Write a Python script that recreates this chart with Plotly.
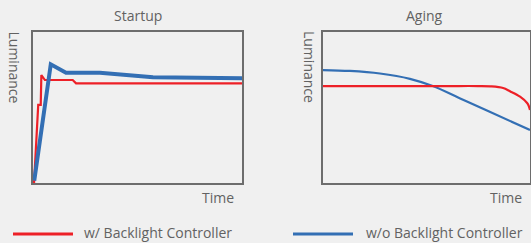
import plotly.graph_objects as go

# ---- data (normalised 0..100 on both axes) ----
startup_red_x = [0.5, 2.5, 3.7, 4.0, 5.7, 19.0, 20.6, 100]
startup_red_y = [0, 51.7, 51.7, 71.5, 68.2, 68.2, 66.0, 66.0]
startup_blue_x = [0.6, 8.5, 15.8, 32.0, 57.4, 100]
startup_blue_y = [1.5, 78.6, 73.0, 73.0, 70.0, 69.3]

aging_red_x = [0, 20, 40, 60, 75, 81, 87, 90.3, 95.2, 98.6, 99.4, 100]
aging_red_y = [64.2, 64.2, 64.2, 64.2, 64.2, 64.0, 62.9, 60.8, 57.2, 53.0, 51.0, 48.3]
aging_blue_x = [0, 13, 27.5, 42, 53, 66, 80, 100]
aging_blue_y = [74.8, 74.2, 72.5, 69.0, 64.2, 56.2, 47.5, 35.1]

panel_titles = ["Startup", "Aging"]
axis_y_title = "Luminance"
axis_x_title = "Time"
series_names = ["w/ Backlight Controller", "w/o Backlight Controller"]

RED = "#ed2027"
BLUE = "#336fb4"
TXT = "#626262"
BORDER = "#6d6d6d"
BG = "#f0f0f0"
FONT = "Open Sans"

W, H = 531, 243

def px(x):
    return x / W

def py(y):
    return 1 - y / H

fig = go.Figure()
fig.add_trace(go.Scatter(x=startup_red_x, y=startup_red_y, mode="lines",
                         line=dict(color=RED, width=2.2), xaxis="x", yaxis="y", showlegend=False))
fig.add_trace(go.Scatter(x=startup_blue_x, y=startup_blue_y, mode="lines",
                         line=dict(color=BLUE, width=4), xaxis="x", yaxis="y", showlegend=False))
fig.add_trace(go.Scatter(x=aging_blue_x, y=aging_blue_y, mode="lines", line_shape="spline",
                         line=dict(color=BLUE, width=2.2), xaxis="x2", yaxis="y2", showlegend=False))
fig.add_trace(go.Scatter(x=aging_red_x, y=aging_red_y, mode="lines", line_shape="spline",
                         line=dict(color=RED, width=2.2), xaxis="x2", yaxis="y2", showlegend=False))

ax = dict(range=[0, 100], showgrid=False, zeroline=False, showticklabels=False, ticks="",
          showline=True, mirror=True, linecolor=BORDER, linewidth=2)
ydom = [py(183), py(32)]
fig.update_layout(
    xaxis=dict(domain=[px(33), px(242)], anchor="y", **ax),
    yaxis=dict(domain=ydom, anchor="x", **ax),
    xaxis2=dict(domain=[px(323), px(530)], anchor="y2", **ax),
    yaxis2=dict(domain=ydom, anchor="x2", **ax),
)

annots = []
font = dict(family=FONT, size=14, color=TXT)
# panel titles
for cx, t in [(137.5, panel_titles[0]), (424, panel_titles[1])]:
    annots.append(dict(x=px(cx), y=py(15), xref="paper", yref="paper", text=t, showarrow=False,
                       xanchor="center", yanchor="middle", font=font))
# y axis titles
for cx in [13.5, 309]:
    annots.append(dict(x=px(cx), y=py(67), xref="paper", yref="paper", text=axis_y_title,
                       showarrow=False, textangle=90, xanchor="center", yanchor="middle", font=font))
# x axis titles
for rx in [236, 524]:
    annots.append(dict(x=px(rx), y=py(197), xref="paper", yref="paper", text=axis_x_title,
                       showarrow=False, xanchor="right", yanchor="middle", font=font))
# legend texts
annots.append(dict(x=px(82), y=py(232), xref="paper", yref="paper", text=series_names[0],
                   showarrow=False, xanchor="left", yanchor="middle", font=font))
annots.append(dict(x=px(364), y=py(232), xref="paper", yref="paper", text=series_names[1],
                   showarrow=False, xanchor="left", yanchor="middle", font=font))

shapes = [
    dict(type="line", xref="paper", yref="paper", x0=px(13), x1=px(73), y0=py(234), y1=py(234),
         line=dict(color=RED, width=3)),
    dict(type="line", xref="paper", yref="paper", x0=px(293), x1=px(353), y0=py(234), y1=py(234),
         line=dict(color=BLUE, width=3)),
]

fig.update_layout(
    width=W, height=H, margin=dict(l=0, r=0, t=0, b=0),
    paper_bgcolor=BG, plot_bgcolor=BG,
    annotations=annots, shapes=shapes, showlegend=False,
)
fig.write_html("out.html", config={"displayModeBar": False},
               post_script="document.body.style.margin='0';document.body.style.overflow='hidden';"
                           "document.body.style.background='" + BG + "';")
